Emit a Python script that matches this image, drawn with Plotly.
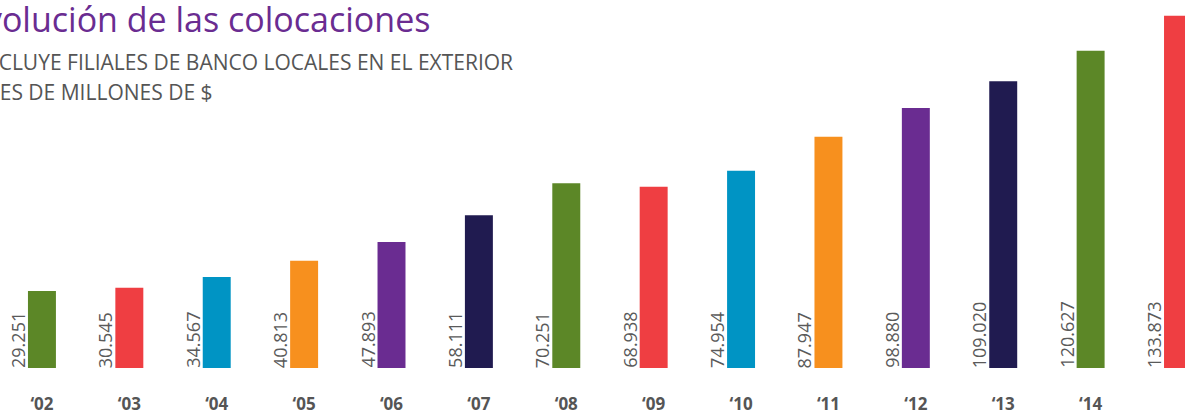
import plotly.graph_objects as go

years = ["‘02", "‘03", "‘04", "‘05", "‘06", "‘07", "‘08", "‘09", "‘10", "‘11", "‘12", "‘13", "‘14", "‘15"]
values = [29251, 30545, 34567, 40813, 47893, 58111, 70251, 68938, 74954, 87947, 98880, 109020, 120627, 133873]
palette = ["#5c8727", "#ef3e42", "#0094c4", "#f7901e", "#6a2c91", "#201b50"]

title_text = "Evolución de las colocaciones"
subtitle_1 = "INCLUYE FILIALES DE BANCO LOCALES EN EL EXTERIOR"
subtitle_2 = "MILES DE MILLONES DE $"

xs = list(range(len(years)))
colors = [palette[i % len(palette)] for i in xs]
labels = [f"{v:,}".replace(",", ".") for v in values]

fig = go.Figure()
fig.add_trace(go.Bar(x=xs, y=values, marker=dict(color=colors, line=dict(width=0)),
                     width=0.32, hoverinfo="skip"))

for x, v, t in zip(xs, values, labels):
    fig.add_annotation(x=x - 0.16, y=0, xref="x", yref="y", text=t, textangle=-90,
                       showarrow=False, xanchor="right", yanchor="bottom", xshift=4, yshift=-2,
                       font=dict(family="Open Sans", size=18, color="#5a5a5a"))

fig.add_annotation(x=432 / 1185, y=1, xref="paper", yref="paper", yanchor="top", xanchor="right",
                   yshift=6, text=title_text, showarrow=False,
                   font=dict(family="Open Sans", size=34, color="#6a2c91"))
fig.add_annotation(x=515 / 1185, y=1, xref="paper", yref="paper", yanchor="top", xanchor="right",
                   yshift=-46, text=subtitle_1, showarrow=False,
                   font=dict(family="Open Sans", size=21, color="#555555"))
fig.add_annotation(x=215 / 1185, y=1, xref="paper", yref="paper", yanchor="top", xanchor="right",
                   yshift=-76, text=subtitle_2, showarrow=False,
                   font=dict(family="Open Sans", size=21, color="#555555"))

fig.update_layout(
    width=1185, height=411,
    margin=dict(l=0, r=0, t=0, b=43),
    paper_bgcolor="white", plot_bgcolor="white",
    showlegend=False,
    xaxis=dict(range=[-0.48, 13.08], tickvals=xs, ticktext=years, showgrid=False,
               zeroline=False, showline=False, ticks="", ticklabelstandoff=24, automargin=False,
               tickfont=dict(family="Open Sans", size=17, color="#555555", weight="bold")),
    yaxis=dict(range=[0, 139900], visible=False, showgrid=False, zeroline=False, automargin=False),
)

fig.write_html("out.html", config={"displayModeBar": False},
               post_script="document.body.style.margin='0';document.body.style.overflow='hidden';")
